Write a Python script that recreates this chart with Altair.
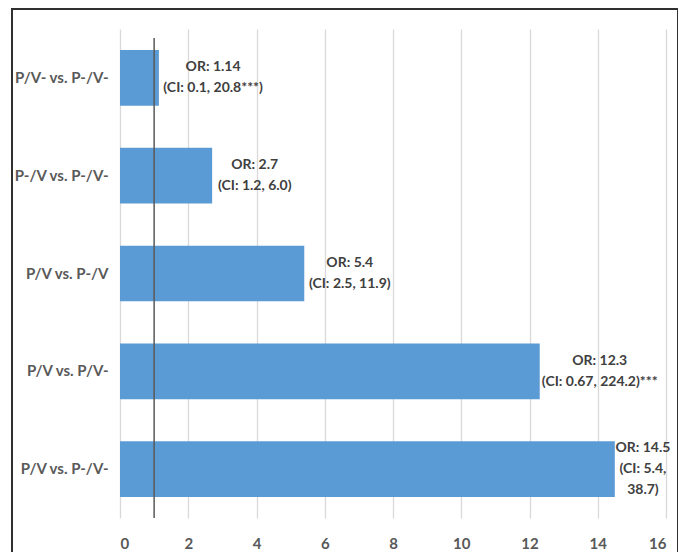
import altair as alt
import pandas as pd

categories = ["P/V- vs. P-/V-", "P-/V vs. P-/V-", "P/V vs. P-/V", "P/V vs. P/V-", "P/V vs. P-/V-"]
odds_ratios = [1.14, 2.7, 5.4, 12.3, 14.5]
label_lines = [
    ["OR: 1.14", "(CI: 0.1, 20.8***)"],
    ["OR: 2.7", "(CI: 1.2, 6.0)"],
    ["OR: 5.4", "(CI: 2.5, 11.9)"],
    ["OR: 12.3", "(CI: 0.67, 224.2)***"],
    ["OR: 14.5", "(CI: 5.4,", "38.7)"],
]
x_ticks = [0, 2, 4, 6, 8, 10, 12, 14, 16]
reference_or = 1

FONT = "Lato"
X_MAX = 16
PLOT_W = 546
PLOT_H = 489
PAD_IN = 0.43
PAD_OUT = 0.215
HALF_CHAR = 2.9   # half of an average glyph width in px
LINE_H = 21

step = PLOT_H / (len(categories) - PAD_IN + 2 * PAD_OUT)
half_bar = step * (1 - PAD_IN) / 2

df = pd.DataFrame({"cat": categories, "OR": odds_ratios})

rows = []
for cat, orv, lines in zip(categories, odds_ratios, label_lines):
    widest = max(len(s) for s in lines)
    n = len(lines)
    for i, s in enumerate(lines):
        rows.append({
            "cat": cat, "OR": orv, "line": s,
            "offpx": widest * HALF_CHAR + 2,
            "dy": half_bar + (i - (n - 1) / 2) * LINE_H,
        })
tdf = pd.DataFrame(rows)

x_scale = alt.Scale(domain=[0, X_MAX], nice=False)
y_scale = alt.Scale(paddingInner=PAD_IN, paddingOuter=PAD_OUT)
y_enc = alt.Y(
    "cat:N",
    sort=categories,
    scale=y_scale,
    axis=alt.Axis(
        title=None, domain=False, ticks=False, grid=False,
        labelFont=FONT, labelFontSize=15, labelColor="#595959",
        labelPadding=12, labelFontWeight="bold",
    ),
)

bars = alt.Chart(df).mark_bar(color="#5B9BD5").encode(
    x=alt.X(
        "OR:Q",
        scale=x_scale,
        axis=alt.Axis(
            title=None, values=x_ticks, domain=False, ticks=False,
            grid=True, gridColor="#D9D9D9", gridWidth=1.3,
            labelFont=FONT, labelFontSize=15, labelColor="#595959",
            labelPadding=18, labelFontWeight="bold",
        ),
    ),
    y=y_enc,
)

text = alt.Chart(tdf).transform_calculate(
    tx=f"datum.OR + datum.offpx * {X_MAX} / {PLOT_W}"
).mark_text(
    align="center", baseline="middle",
    font=FONT, fontSize=14, fontWeight="bold", color="#404040",
).encode(
    x=alt.X("tx:Q", scale=x_scale),
    y=alt.Y("cat:N", sort=categories, scale=y_scale),
    yOffset=alt.YOffset("dy:Q", scale=None),
    text="line:N",
)

ref = alt.Chart(pd.DataFrame({"v": [reference_or]})).mark_rule(
    color="#595959", strokeWidth=1.5
).encode(
    x=alt.X("v:Q", scale=x_scale),
    y=alt.value(9),
    y2=alt.value(PLOT_H),
)

frame = alt.Chart(pd.DataFrame({"a": [0]})).mark_rect(
    fill=None, stroke="#303030", strokeWidth=2
).encode(
    x=alt.value(-108), x2=alt.value(558),
    y=alt.value(-20), y2=alt.value(560),
)

chart = alt.layer(bars, ref, text, frame).properties(
    width=PLOT_W, height=PLOT_H,
    autosize=alt.AutoSizeParams(type="none"),
    padding={"left": 112, "top": 21, "right": 12, "bottom": 36},
).configure_view(stroke=None)

chart.save("out.html", embed_options={"renderer": "svg", "actions": False})
